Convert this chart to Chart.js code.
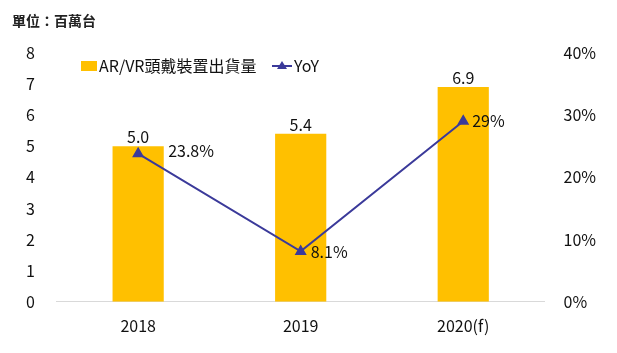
<!DOCTYPE html>
<html>
<head>
<meta charset="utf-8">
<script src="https://cdn.jsdelivr.net/npm/chart.js@4/dist/chart.umd.min.js"></script>
<style>
  body { margin: 0; background: #fff; }
  #wrap { width: 617px; height: 353px; }
</style>
</head>
<body>
<div id="wrap"><canvas id="chart" width="617" height="353"></canvas></div>
<script>
// data
const years = ['2018', '2019', '2020(f)'];
const shipments = [5.0, 5.4, 6.9];      // 百萬台
const yoy = [23.8, 8.1, 29];            // %
const yoyLabels = ['23.8%', '8.1%', '29%'];
const leftTicks = [0, 1, 2, 3, 4, 5, 6, 7, 8];
const rightTicks = [0, 10, 20, 30, 40];

const FONT = '"Noto Sans CJK TC", "Noto Sans", sans-serif';
const BAR_COLOR = '#FFC000';
const LINE_COLOR = '#3B3A9A';

// value labels + legend drawn by hand
const labelPlugin = {
    id: 'labels',
    afterDatasetsDraw(chart) {
        const ctx = chart.ctx;
        ctx.save();
        ctx.font = '16px ' + FONT;
        ctx.fillStyle = '#111';

        // bar values above the bars
        const barMeta = chart.getDatasetMeta(0);
        barMeta.data.forEach((bar, i) => {
            ctx.textAlign = 'center';
            ctx.textBaseline = 'bottom';
            ctx.fillText(shipments[i].toFixed(1), bar.x, bar.y - 1);
        });

        // yoy values right of the points (first one sits past the bar edge)
        const dx = [30, 10, 9];
        const dy = [-3, 1, 0];
        const lineMeta = chart.getDatasetMeta(1);
        lineMeta.data.forEach((pt, i) => {
            ctx.textAlign = 'left';
            ctx.textBaseline = 'middle';
            ctx.fillText(yoyLabels[i], pt.x + dx[i], pt.y + dy[i]);
        });

        // legend
        const ly = 66;
        ctx.fillStyle = BAR_COLOR;
        ctx.fillRect(81, ly - 5, 16, 10);
        ctx.fillStyle = '#111';
        ctx.textAlign = 'left';
        ctx.textBaseline = 'middle';
        ctx.fillText('AR/VR頭戴裝置出貨量', 99, ly);

        ctx.strokeStyle = LINE_COLOR;
        ctx.lineWidth = 2;
        ctx.beginPath();
        ctx.moveTo(272, ly);
        ctx.lineTo(292, ly);
        ctx.stroke();
        ctx.fillStyle = LINE_COLOR;
        ctx.beginPath();
        ctx.moveTo(282, ly - 5);
        ctx.lineTo(287, ly + 3);
        ctx.lineTo(277, ly + 3);
        ctx.closePath();
        ctx.fill();
        ctx.fillStyle = '#111';
        ctx.fillText('YoY', 294, ly);
        ctx.restore();
    }
};

new Chart(document.getElementById('chart'), {
    data: {
        labels: years,
        datasets: [
            {
                type: 'bar',
                label: 'AR/VR頭戴裝置出貨量',
                data: shipments,
                backgroundColor: BAR_COLOR,
                barPercentage: 0.315,
                categoryPercentage: 1,
                yAxisID: 'y',
                order: 2
            },
            {
                type: 'line',
                label: 'YoY',
                data: yoy,
                borderColor: LINE_COLOR,
                backgroundColor: LINE_COLOR,
                borderWidth: 2,
                pointStyle: 'triangle',
                pointRadius: 5,
                tension: 0,
                yAxisID: 'y1',
                order: 1
            }
        ]
    },
    options: {
        responsive: false,
        animation: false,
        layout: { padding: { top: 4, left: 12, right: 10, bottom: 10 } },
        plugins: {
            legend: { display: false },
            tooltip: { enabled: false },
            title: {
                display: true,
                text: '單位：百萬台',
                align: 'start',
                color: '#222',
                font: { family: FONT, size: 14, weight: 'bold' },
                padding: { top: 8, bottom: 24 }
            }
        },
        scales: {
            x: {
                grid: { display: false },
                border: { display: true, color: '#d9d9d9', width: 1 },
                ticks: { color: '#111', font: { family: FONT, size: 16 }, padding: 7 }
            },
            y: {
                position: 'left',
                min: 0,
                max: 8,
                afterBuildTicks: axis => { axis.ticks = leftTicks.map(v => ({ value: v })); },
                grid: { display: false },
                border: { display: false },
                ticks: { color: '#111', font: { family: FONT, size: 16 }, padding: 14 }
            },
            y1: {
                position: 'right',
                min: 0,
                max: 40,
                afterBuildTicks: axis => { axis.ticks = rightTicks.map(v => ({ value: v })); },
                grid: { display: false },
                border: { display: false },
                ticks: {
                    color: '#111',
                    font: { family: FONT, size: 16 },
                    padding: 11,
                    callback: v => v + '%'
                }
            }
        }
    },
    plugins: [labelPlugin]
});
</script>
</body>
</html>
